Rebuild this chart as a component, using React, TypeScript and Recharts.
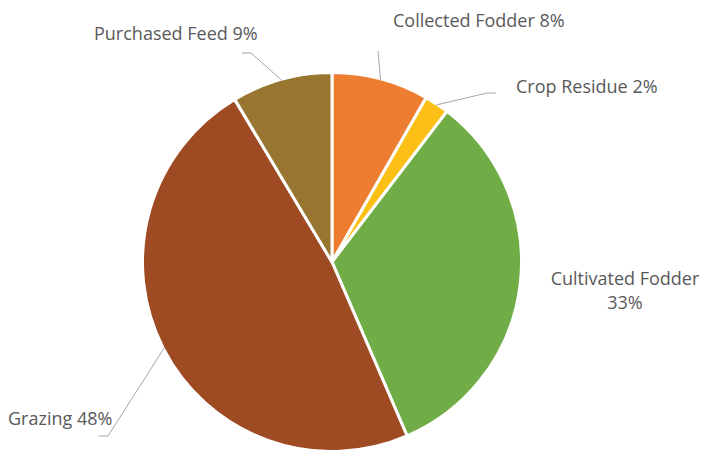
import { PieChart, Pie, Cell } from "recharts";

// --- Data ---
const NAMES = [
  "Collected Fodder",
  "Crop Residue",
  "Cultivated Fodder",
  "Grazing",
  "Purchased Feed",
];
const VALUES = [8.3, 2.1, 33.2, 48.0, 8.6];

// --- Styles ---
const COLORS = ["#ED7D31", "#FBBF16", "#70AD47", "#9E4A22", "#98762F"];
const TEXT_COLOR = "#595959";
const LINE_COLOR = "#A6A6A6";
const FONT = "'Open Sans', 'Noto Sans', sans-serif";
const FONT_SIZE = 18;

// leader line bend points and text anchors (page px), per slice
const LABEL_LAYOUT = [
  { line: [[378, 51]], tx: 393, ty: 20, anchor: "start" },
  { line: [[487, 93], [496, 93]], tx: 516, ty: 86, anchor: "start" },
  { line: [], tx: 625, ty: 278, anchor: "middle", wrap: true },
  { line: [[108, 436], [99, 436]], tx: 8, ty: 418, anchor: "start" },
  { line: [[251, 53], [242, 53]], tx: 94, ty: 33, anchor: "start" },
];

const data = NAMES.map((name, i) => ({ name, value: VALUES[i] }));

const RAD = Math.PI / 180;

const renderLabel = (props: any) => {
  const { cx, cy, midAngle, outerRadius, index, percent, name } = props;
  const lay = LABEL_LAYOUT[index];
  const pct = `${Math.round((percent ?? 0) * 100)}%`;
  const sx = cx + Math.cos(-midAngle * RAD) * (outerRadius - 1);
  const sy = cy + Math.sin(-midAngle * RAD) * (outerRadius - 1);
  const pts = [[sx, sy], ...lay.line].map((p) => p.join(",")).join(" ");
  return (
    <g key={`lbl-${index}`}>
      {lay.line.length > 0 && (
        <polyline points={pts} fill="none" stroke={LINE_COLOR} strokeWidth={1} />
      )}
      {lay.wrap ? (
        <text
          x={lay.tx}
          y={lay.ty}
          textAnchor="middle"
          dominantBaseline="central"
          fill={TEXT_COLOR}
          fontSize={FONT_SIZE}
          fontFamily={FONT}
        >
          <tspan x={lay.tx} dy={0}>{name}</tspan>
          <tspan x={lay.tx} dy={24}>{pct}</tspan>
        </text>
      ) : (
        <text
          x={lay.tx}
          y={lay.ty}
          textAnchor={lay.anchor}
          dominantBaseline="central"
          fill={TEXT_COLOR}
          fontSize={FONT_SIZE}
          fontFamily={FONT}
        >
          {`${name} ${pct}`}
        </text>
      )}
    </g>
  );
};

export default function App() {
  return (
    <div style={{ position: "absolute", left: 0, top: 0, background: "#fff" }}>
      <PieChart
        width={702}
        height={450}
        margin={{ top: 0, right: 0, bottom: 0, left: 0 }}
      >
        <Pie
          data={data}
          dataKey="value"
          nameKey="name"
          cx={332}
          cy={262}
          outerRadius={189.5}
          startAngle={90}
          endAngle={-270}
          stroke="#ffffff"
          strokeWidth={3}
          label={renderLabel}
          labelLine={false}
          isAnimationActive={false}
        >
          {data.map((entry, index) => (
            <Cell key={`cell-${entry.name}`} fill={COLORS[index]} />
          ))}
        </Pie>
      </PieChart>
    </div>
  );
}
